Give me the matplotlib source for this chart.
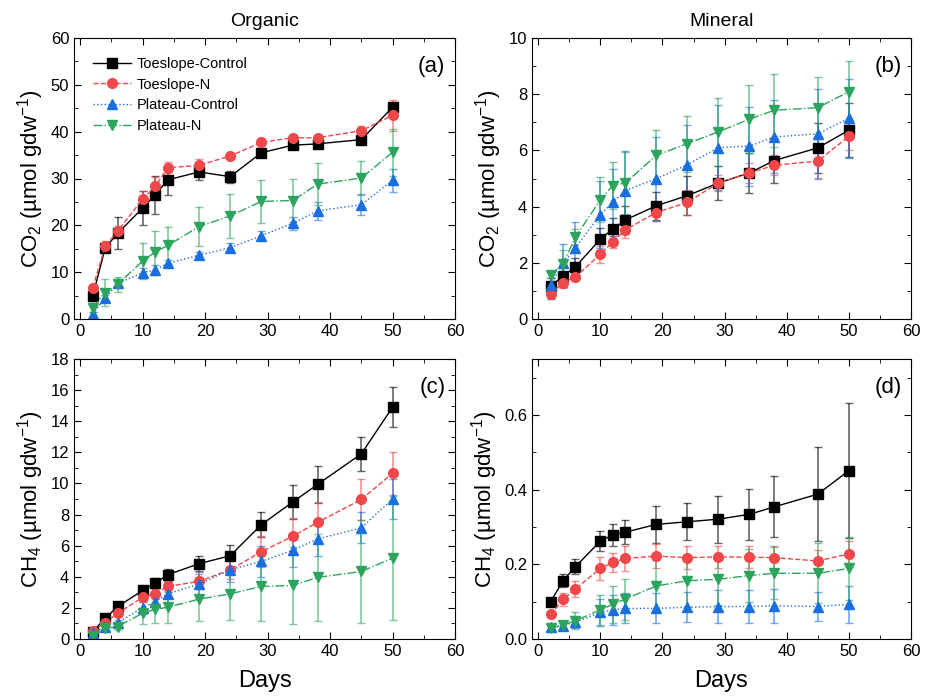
import matplotlib
matplotlib.use('Agg')
import matplotlib.pyplot as plt
from matplotlib.ticker import MultipleLocator

plt.rcParams['font.family'] = ['Liberation Sans', 'DejaVu Sans']
plt.rcParams['mathtext.default'] = 'regular'

# sampling days
days = [2, 4, 6, 10, 12, 14, 19, 24, 29, 34, 38, 45, 50]

series_names = ['Toeslope-Control', 'Toeslope-N', 'Plateau-Control', 'Plateau-N']

# (a) Organic CO2
a_tc = [4.9, 15.2, 18.3, 23.7, 26.5, 29.7, 31.4, 30.4, 35.5, 37.1, 37.4, 38.3, 45.2]
a_tc_err = [0.6, 1.0, 3.4, 3.7, 4.1, 3.3, 1.7, 1.3, 1.0, 0.5, 0.5, 0.7, 1.0]
a_tn = [6.7, 15.5, 18.8, 25.6, 28.3, 32.3, 32.8, 34.8, 37.7, 38.7, 38.7, 40.2, 43.5]
a_tn_err = [0.8, 1.2, 1.0, 1.8, 2.0, 1.2, 1.3, 0.3, 0.5, 0.6, 0.6, 1.0, 3.3]
a_pc = [1.1, 4.5, 7.6, 9.9, 10.5, 11.9, 13.6, 15.2, 17.8, 20.4, 23.1, 24.4, 29.6]
a_pc_err = [0.5, 0.6, 0.6, 1.0, 1.0, 0.6, 0.8, 1.0, 1.0, 1.3, 1.9, 2.2, 2.5]
a_pn = [2.4, 5.6, 7.4, 12.4, 14.3, 15.7, 19.7, 22.0, 25.1, 25.3, 28.8, 30.1, 35.6]
a_pn_err = [1.0, 2.9, 1.6, 3.9, 4.5, 3.9, 4.2, 4.7, 4.5, 4.6, 4.5, 3.6, 5.0]

# (b) Mineral CO2
b_tc = [1.17, 1.53, 1.86, 2.84, 3.2, 3.52, 4.03, 4.39, 4.84, 5.2, 5.64, 6.09, 6.72]
b_tc_err = [0.3, 0.4, 0.3, 0.4, 0.4, 0.5, 0.5, 0.7, 0.6, 0.7, 0.8, 0.9, 0.95]
b_tn = [0.9, 1.29, 1.5, 2.3, 2.74, 3.17, 3.79, 4.15, 4.84, 5.2, 5.47, 5.62, 6.5]
b_tn_err = [0.2, 0.2, 0.15, 0.3, 0.2, 0.3, 0.3, 0.45, 0.3, 0.35, 0.35, 0.6, 0.5]
b_pc = [1.2, 1.98, 2.54, 3.71, 4.15, 4.57, 4.99, 5.49, 6.1, 6.15, 6.48, 6.59, 7.14]
b_pc_err = [0.5, 0.7, 0.9, 1.2, 1.2, 1.4, 1.5, 1.4, 1.5, 1.4, 1.3, 1.6, 1.4]
b_pn = [1.56, 1.97, 2.92, 4.24, 4.75, 4.84, 5.82, 6.24, 6.66, 7.11, 7.43, 7.52, 8.09]
b_pn_err = [0.1, 0.5, 0.3, 0.8, 0.85, 1.1, 0.9, 1.0, 1.2, 1.2, 1.3, 1.1, 1.1]

# (c) Organic CH4
c_tc = [0.47, 1.33, 2.09, 3.12, 3.59, 4.13, 4.84, 5.35, 7.35, 8.8, 9.94, 11.9, 14.9]
c_tc_err = [0.1, 0.2, 0.2, 0.3, 0.3, 0.4, 0.5, 0.7, 0.8, 1.1, 1.2, 1.1, 1.3]
c_tn = [0.52, 1.05, 1.66, 2.67, 2.9, 3.38, 3.7, 4.45, 5.61, 6.6, 7.5, 8.97, 10.65]
c_tn_err = [0.1, 0.15, 0.2, 0.3, 0.3, 0.3, 0.5, 0.6, 1.0, 1.2, 1.3, 1.3, 1.4]
c_pc = [0.37, 0.8, 1.05, 2.02, 2.41, 2.9, 3.53, 4.45, 4.99, 5.7, 6.43, 7.14, 9.01]
c_pc_err = [0.1, 0.2, 0.2, 0.4, 0.5, 0.6, 0.8, 0.8, 1.0, 1.1, 1.1, 1.0, 1.3]
c_pn = [0.2, 0.69, 0.8, 1.66, 1.91, 2.04, 2.56, 2.9, 3.38, 3.44, 3.96, 4.34, 5.2]
c_pn_err = [0.1, 0.2, 0.2, 0.7, 0.9, 1.0, 1.4, 1.7, 2.2, 2.5, 2.8, 3.3, 4.0]

# (d) Mineral CH4
d_tc = [0.1, 0.156, 0.194, 0.262, 0.279, 0.286, 0.307, 0.314, 0.321, 0.334, 0.354, 0.388, 0.451]
d_tc_err = [0.01, 0.018, 0.02, 0.027, 0.03, 0.032, 0.05, 0.05, 0.063, 0.068, 0.082, 0.125, 0.18]
d_tn = [0.066, 0.106, 0.134, 0.189, 0.205, 0.216, 0.222, 0.218, 0.22, 0.219, 0.218, 0.209, 0.228]
d_tn_err = [0.008, 0.018, 0.022, 0.03, 0.025, 0.033, 0.033, 0.03, 0.03, 0.03, 0.032, 0.03, 0.035]
d_pc = [0.031, 0.036, 0.045, 0.071, 0.078, 0.082, 0.082, 0.085, 0.087, 0.087, 0.089, 0.087, 0.093]
d_pc_err = [0.005, 0.01, 0.015, 0.035, 0.04, 0.04, 0.04, 0.04, 0.043, 0.043, 0.045, 0.04, 0.05]
d_pn = [0.029, 0.037, 0.049, 0.078, 0.093, 0.107, 0.142, 0.156, 0.16, 0.17, 0.176, 0.176, 0.189]
d_pn_err = [0.005, 0.012, 0.022, 0.04, 0.05, 0.055, 0.07, 0.07, 0.07, 0.07, 0.07, 0.08, 0.085]

colors = ['black', '#F0474A', '#1A6FDF', '#2DA45E']
markers = ['s', 'o', '^', 'v']
styles = ['-', '--', ':', '-.']
msizes = [6.5, 7, 7.5, 7.5]

panels = [
    ([a_tc, a_tn, a_pc, a_pn], [a_tc_err, a_tn_err, a_pc_err, a_pn_err]),
    ([b_tc, b_tn, b_pc, b_pn], [b_tc_err, b_tn_err, b_pc_err, b_pn_err]),
    ([c_tc, c_tn, c_pc, c_pn], [c_tc_err, c_tn_err, c_pc_err, c_pn_err]),
    ([d_tc, d_tn, d_pc, d_pn], [d_tc_err, d_tn_err, d_pc_err, d_pn_err]),
]
panel_tags = ['(a)', '(b)', '(c)', '(d)']
ylims = [(0, 60), (0, 10), (0, 18), (0, 0.75)]
ymajor = [10, 2, 2, 0.2]
yminor = [5, 1, 1, 0.1]

fig = plt.figure(figsize=(9.3, 7), dpi=100)
rects = [
    [74/930, 1-319/700, 381/930, 281/700],
    [532/930, 1-319/700, 379/930, 281/700],
    [74/930, 1-639/700, 381/930, 280/700],
    [532/930, 1-639/700, 379/930, 280/700],
]

axes = []
line_handles = []
for k in range(4):
    ax = fig.add_axes(rects[k])
    vals, errs = panels[k]
    for i in range(4):
        cont = ax.errorbar(days, vals[i], yerr=errs[i], color=colors[i], marker=markers[i],
                           ls=styles[i], lw=1.0, ms=msizes[i], capsize=3, elinewidth=1.2,
                           ecolor=matplotlib.colors.to_rgba(colors[i], 0.6))
        if k == 0:
            line_handles.append(cont[0])
    ax.set_xlim(-1, 60)
    ax.set_ylim(*ylims[k])
    ax.xaxis.set_major_locator(MultipleLocator(10))
    ax.xaxis.set_minor_locator(MultipleLocator(5))
    ax.yaxis.set_major_locator(MultipleLocator(ymajor[k]))
    ax.yaxis.set_minor_locator(MultipleLocator(yminor[k]))
    ax.tick_params(which='both', direction='in', top=True, right=True, labelsize=12)
    ax.tick_params(which='major', length=5)
    ax.tick_params(which='minor', length=3)
    ax.text(0.975, 0.9, panel_tags[k], transform=ax.transAxes, ha='right', va='center', fontsize=16)
    axes.append(ax)

axes[3].yaxis.set_major_formatter(matplotlib.ticker.FormatStrFormatter('%.1f'))

axes[0].set_ylabel('CO$_2$ (µmol gdw$^{-1}$)', fontsize=16, labelpad=3)
axes[1].set_ylabel('CO$_2$ (µmol gdw$^{-1}$)', fontsize=16, labelpad=3)
axes[2].set_ylabel('CH$_4$ (µmol gdw$^{-1}$)', fontsize=16, labelpad=3)
axes[3].set_ylabel('CH$_4$ (µmol gdw$^{-1}$)', fontsize=16, labelpad=3)
axes[2].set_xlabel('Days', fontsize=17, labelpad=8)
axes[3].set_xlabel('Days', fontsize=17, labelpad=8)
axes[0].set_title('Organic', fontsize=14, pad=9)
axes[1].set_title('Mineral', fontsize=14, pad=9)

axes[0].legend(line_handles, series_names, loc='upper left', frameon=False, fontsize=10.5,
               handlelength=2.6, handletextpad=0.4, labelspacing=0.45, borderaxespad=0.9)

fig.savefig('out.png', dpi=100)
